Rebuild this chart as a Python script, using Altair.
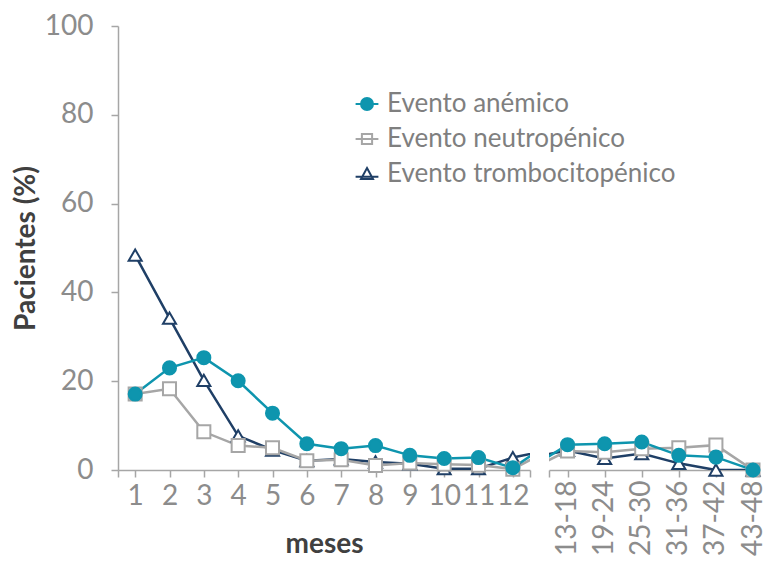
import altair as alt
import pandas as pd

cats = ["1", "2", "3", "4", "5", "6", "7", "8", "9", "10", "11", "12",
        "13-18", "19-24", "25-30", "31-36", "37-42", "43-48"]
series = ["Evento anémico", "Evento neutropénico", "Evento trombocitopénico"]
anemia = [17.1, 23.0, 25.3, 20.1, 12.8, 5.9, 4.8, 5.5, 3.3, 2.6, 2.8, 0.5,
          5.7, 5.9, 6.3, 3.3, 2.9, 0.0]
neutro = [17.1, 18.3, 8.6, 5.5, 5.0, 2.1, 2.3, 1.0, 1.6, 1.3, 1.1, 0.2,
          4.3, 4.0, 4.8, 5.0, 5.6, 0.0]
trombo = [48.4, 34.2, 20.2, 7.7, 4.5, 2.1, 2.5, 1.8, 1.4, 0.3, 0.3, 2.8,
          4.4, 2.6, 3.7, 1.5, 0.0, 0.0]
colors = ["#0E95AE", "#A6A6A6", "#1F3F66"]
fills = ["#0E95AE", "#FFFFFF", "#FFFFFF"]
shapes = ["circle", "square", "triangle-up"]

FONT = "Lato"
AXC = "#A6A6A6"
LBC = "#8C8C8C"
TTC = "#404040"

rows = []
for s, vals in zip(series, [anemia, neutro, trombo]):
    for i, (c, v) in enumerate(zip(cats, vals)):
        rows.append({"idx": i + 1, "cat": c, "serie": s, "valor": v})
df = pd.DataFrame(rows)

leg_paths = [
    "M-1.9,0H1.9M1,0A1,1,0,1,1,-1,0A1,1,0,1,1,1,0Z",
    "M-1.9,0H1.9M-0.85,-0.85H0.85V0.85H-0.85Z",
    "M-1.9,0.45H1.9M0,-1L1,0.85H-1Z",
]

y_axis = alt.Axis(values=[0, 20, 40, 60, 80, 100], title="Pacientes (%)",
                  grid=False, tickSize=7, labelPadding=18, titlePadding=4)


def panel(lo, hi, line_rng, pt_rng, xaxis, show_legend, show_y, width):
    x_enc = alt.X("idx:Q", scale=alt.Scale(domain=[lo, hi], nice=False, zero=False),
                  axis=xaxis)
    y_enc = alt.Y("valor:Q", scale=alt.Scale(domain=[0, 100], nice=False),
                  axis=y_axis if show_y else None)
    layers = []
    # draw order: trombo, neutro, anemia (anemia on top)
    for k in [2, 1, 0]:
        s = series[k]
        base = alt.Chart(df).transform_filter(alt.datum.serie == s)
        layers.append(
            base.transform_filter(
                (alt.datum.idx >= line_rng[0]) & (alt.datum.idx <= line_rng[1])
            ).mark_line(clip=True, strokeWidth=2.5, color=colors[k]).encode(
                x=x_enc, y=y_enc, order=alt.Order("idx:Q"))
        )
    for k in [2, 1, 0]:
        s = series[k]
        base = alt.Chart(df).transform_filter(alt.datum.serie == s)
        layers.append(
            base.transform_filter(
                (alt.datum.idx >= pt_rng[0]) & (alt.datum.idx <= pt_rng[1])
            ).mark_point(filled=True, size=170, strokeWidth=2, opacity=1,
                         shape=shapes[k], fill=fills[k], stroke=colors[k]).encode(
                x=x_enc, y=y_enc)
        )
    if show_legend:
        legend = alt.Legend(
            title=None, orient="none", legendX=236, legendY=65, padding=0,
            labelFont=FONT, labelFontSize=26, labelColor="#7F7F7F", labelOffset=7,
            labelLimit=500, symbolOpacity=1,
            symbolSize=144, symbolStrokeWidth=2, rowPadding=9,
        )
        layers.append(
            alt.Chart(df).transform_filter("false").mark_point(
                filled=True, strokeWidth=2, opacity=1).encode(
                x=x_enc, y=y_enc,
                stroke=alt.Stroke("serie:N", scale=alt.Scale(domain=series, range=colors),
                                  legend=legend, sort=series),
                fill=alt.Fill("serie:N", scale=alt.Scale(domain=series, range=fills),
                              legend=legend, sort=series),
                shape=alt.Shape("serie:N", scale=alt.Scale(domain=series, range=leg_paths),
                                legend=legend, sort=series),
            )
        )
    return alt.layer(*layers).properties(width=width, height=444)


ticks1 = [0.5] + list(range(1, 13)) + [12.5]
xaxis1 = alt.Axis(values=ticks1, title="meses", labelExpr="datum.value % 1 == 0 ? datum.value : ''",
                  grid=False, labelAngle=0, labelOverlap=False, labelFlush=False, labelPadding=5,
                  titlePadding=20)
lab2 = "[" + ",".join("'" + c + "'" for c in cats[12:]) + "]"
ticks2 = [12.5] + list(range(13, 19))
xaxis2 = alt.Axis(values=ticks2, title=None, grid=False,
                  labelExpr="datum.value % 1 == 0 ? " + lab2 + "[datum.value - 13] : ''",
                  labelAngle=-90, labelAlign="right", labelBaseline="middle",
                  labelOverlap=False, labelFlush=False, labelPadding=3)

p1 = panel(0.5, 12.5, (1, 13), (1, 12), xaxis1, True, True, 412)
p2 = panel(12.5, 18.0, (12, 18), (13, 18), xaxis2, False, False, 204)

chart = alt.hconcat(p1, p2, spacing=4).properties(
    padding={"left": 4, "top": 4, "right": 0, "bottom": 0}
).configure(background="white").configure_view(stroke=None).configure_axis(
    domainColor=AXC, tickColor=AXC, domainWidth=1.5, tickWidth=1.5, tickSize=7,
    labelColor=LBC, labelFont=FONT, labelFontSize=28,
    titleFont=FONT, titleFontSize=28, titleFontWeight="bold", titleColor=TTC,
)

chart.save("out.html", embed_options={"renderer": "svg", "actions": False})
